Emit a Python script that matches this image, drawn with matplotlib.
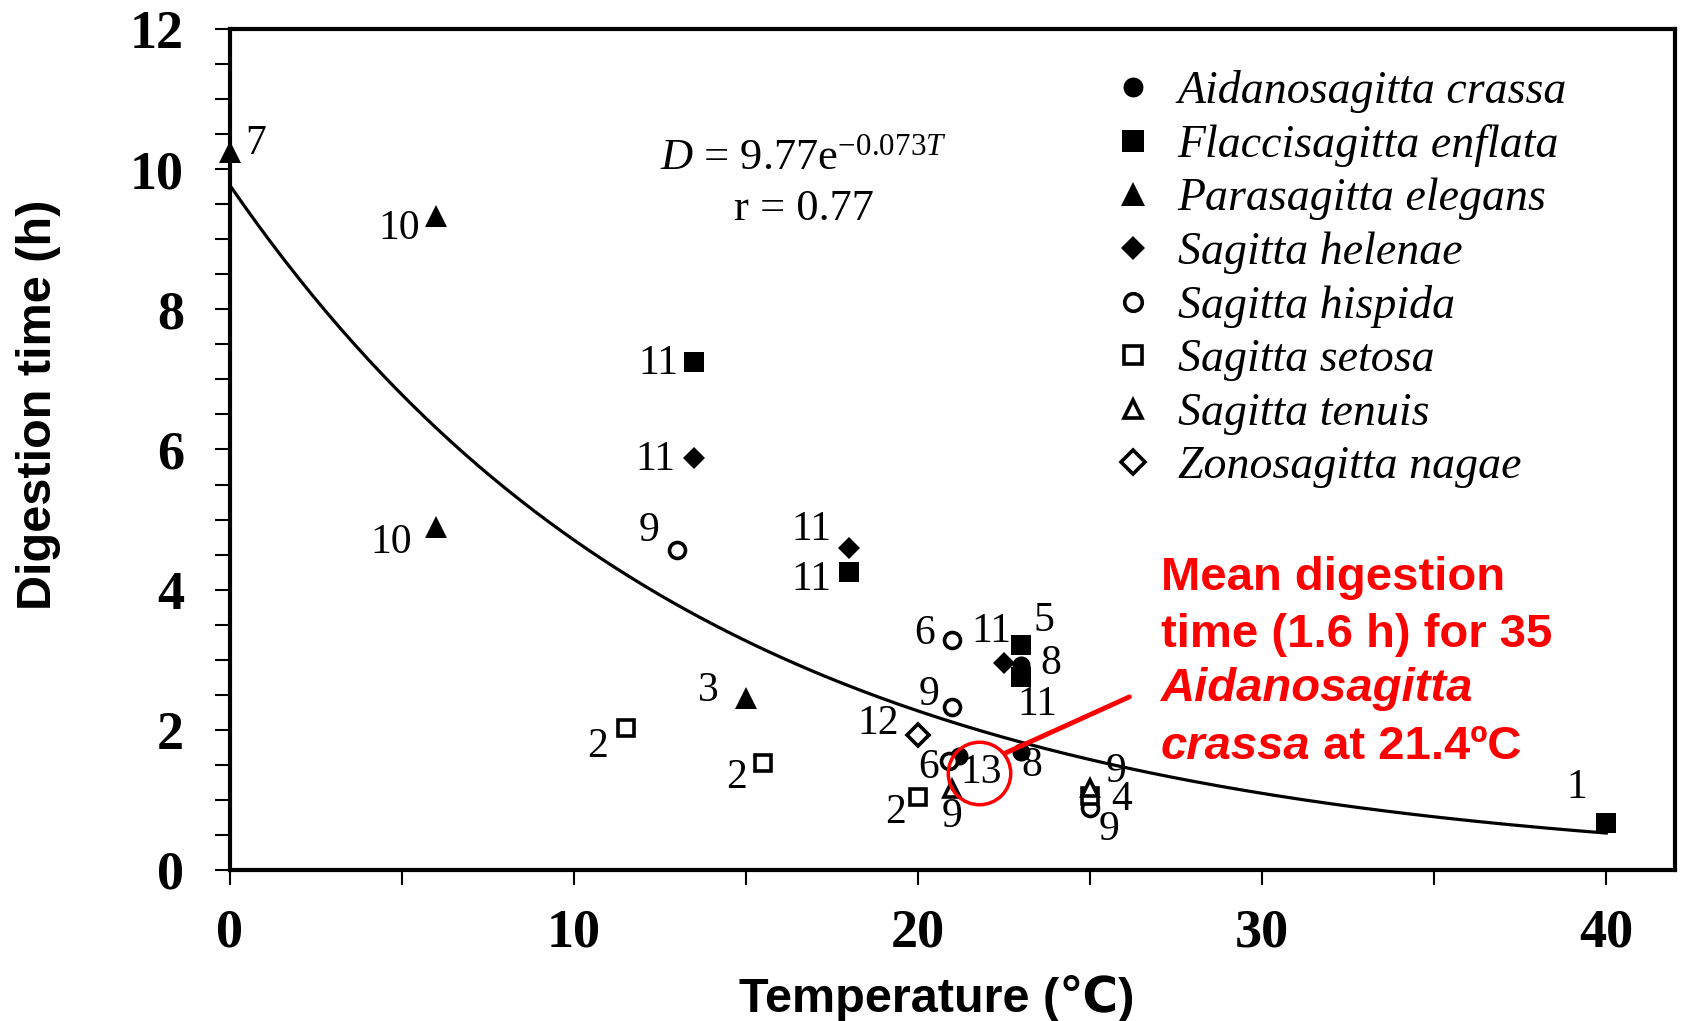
import numpy as np
import matplotlib
matplotlib.use('Agg')
import matplotlib.pyplot as plt
from matplotlib.ticker import MultipleLocator
from matplotlib.font_manager import FontProperties
from matplotlib.lines import Line2D

plt.rcParams['mathtext.fontset'] = 'custom'
plt.rcParams['mathtext.rm'] = 'Liberation Serif'
plt.rcParams['mathtext.it'] = 'Liberation Serif:italic'
plt.rcParams['mathtext.bf'] = 'Liberation Serif:bold'

# ---------------- data ----------------
crassa_T = [23.0, 23.0, 21.2]
crassa_D = [2.92, 1.69, 1.62]
crassa_ref = ['8', '8', '13']

enflata_T = [13.5, 18.0, 23.0, 23.0, 40.0]
enflata_D = [7.25, 4.25, 3.21, 2.76, 0.67]
enflata_ref = ['11', '11', '5', '11', '1']

elegans_T = [0.0, 6.0, 6.0, 15.0]
elegans_D = [10.25, 9.33, 4.9, 2.45]
elegans_ref = ['7', '10', '10', '3']

helenae_T = [13.5, 18.0, 22.5]
helenae_D = [5.88, 4.6, 2.95]
helenae_ref = ['11', '11', '11']

hispida_T = [13.0, 21.0, 21.0, 20.9, 25.0]
hispida_D = [4.57, 3.28, 2.32, 1.56, 0.89]
hispida_ref = ['9', '6', '9', '6', '9']

setosa_T = [11.5, 15.5, 20.0, 25.0]
setosa_D = [2.02, 1.52, 1.04, 1.05]
setosa_ref = ['2', '2', '2', '4']

tenuis_T = [21.0, 25.0]
tenuis_D = [1.15, 1.17]
tenuis_ref = ['9', '9']

nagae_T = [20.0]
nagae_D = [1.93]
nagae_ref = ['12']

species_names = ['Aidanosagitta crassa', 'Flaccisagitta enflata', 'Parasagitta elegans',
                 'Sagitta helenae', 'Sagitta hispida', 'Sagitta setosa',
                 'Sagitta tenuis', 'Zonosagitta nagae']

fit_a = 9.77
fit_b = 0.073
fit_r = 0.77
mean_T = 21.4
mean_D = 1.6
n_mean = 35

x_ticks = [0, 10, 20, 30, 40]
y_ticks = [0, 2, 4, 6, 8, 10, 12]

# ---------------- styles (label offsets in points) ----------------
crassa_off = [(21, 0.8), (7.7, -10), (15.5, -11.6)]
enflata_off = [(-26, -1.5), (-27, -5.4), (16, 17.8), (11.6, -20), (-21, 25.5)]
elegans_off = [(18.5, 5.4), (-27, -9.3), (-32.5, -11.6), (-27, 5.4)]
helenae_off = [(-27.8, -1.5), (-27, 13), (-9.3, 22.4)]
hispida_off = [(-20, 14), (-20, 4.6), (-17, 9.3), (-14.7, -5.4), (14, -16)]
setosa_off = [(-20, -13), (-19, -10), (-16, -11.6), (22.5, -2.3)]
tenuis_off = [(0, -20), (18.5, 11.5)]
nagae_off = [(-29, 7.7)]

groups = [
    (crassa_T, crassa_D, crassa_ref, crassa_off, dict(marker='o', ms=13, mfc='black', mec='black', mew=0)),
    (enflata_T, enflata_D, enflata_ref, enflata_off, dict(marker='s', ms=14, mfc='black', mec='black', mew=0)),
    (elegans_T, elegans_D, elegans_ref, elegans_off, dict(marker='^', ms=16, mfc='black', mec='black', mew=0)),
    (helenae_T, helenae_D, helenae_ref, helenae_off, dict(marker='D', ms=11.5, mfc='black', mec='black', mew=0)),
    (hispida_T, hispida_D, hispida_ref, hispida_off, dict(marker='o', ms=11.5, mfc='white', mec='black', mew=2.6)),
    (setosa_T, setosa_D, setosa_ref, setosa_off, dict(marker='s', ms=12, mfc='white', mec='black', mew=2.6)),
    (tenuis_T, tenuis_D, tenuis_ref, tenuis_off, dict(marker='^', ms=12, mfc='white', mec='black', mew=2.6)),
    (nagae_T, nagae_D, nagae_ref, nagae_off, dict(marker='D', ms=11, mfc='white', mec='black', mew=2.6)),
]

fig = plt.figure(figsize=(16.84, 10.21), dpi=100)
ax = fig.add_axes([0.1365, 0.1479, 0.8582, 0.8237])
ax.set_xlim(0, 42)
ax.set_ylim(0, 12)

# fitted curve
T_curve = np.linspace(0, 40, 200)
ax.plot(T_curve, fit_a * np.exp(-fit_b * T_curve), color='black', lw=2.3, zorder=2)

handles = []
for T, D, refs, offs, st in groups:
    ax.plot(T, D, linestyle='none', zorder=3, clip_on=False, **st)
    handles.append(Line2D([], [], linestyle='none', **st))
    for x, y, r, o in zip(T, D, refs, offs):
        ax.annotate(r, (x, y), xytext=o, textcoords='offset points', ha='center', va='center',
                    fontsize=30, family='Liberation Serif', zorder=4)

# axes styling
for s in ax.spines.values():
    s.set_linewidth(3)
ax.set_xticks(x_ticks)
ax.set_yticks(y_ticks)
ax.xaxis.set_minor_locator(MultipleLocator(5))
ax.yaxis.set_minor_locator(MultipleLocator(0.5))
ax.tick_params(which='both', direction='out', length=11, width=1.5, top=False, right=False)
ax.tick_params(axis='y', which='major', pad=22)
ax.tick_params(axis='x', which='major', pad=17)
for lbl in ax.get_xticklabels() + ax.get_yticklabels():
    lbl.set_fontfamily('Liberation Serif')
    lbl.set_fontweight('bold')
    lbl.set_fontsize(39)

fig.text(0.023, 0.604, 'Digestion time (h)', rotation=90, ha='center', va='center',
         fontsize=35, fontweight='bold', family=['Liberation Sans', 'DejaVu Sans'])
fig.text(0.556, 0.0088, 'Temperature (\u2103)', ha='center', va='baseline',
         fontsize=35, fontweight='bold', family=['Liberation Sans', 'DejaVu Sans'])

# equation
ax.text(16.67, 10.16, r'$\mathit{D}$ = %.2fe$^{\mathrm{-%.3f}\mathit{T}}$' % (fit_a, fit_b),
        ha='center', va='center', fontsize=32, family='Liberation Serif')
ax.text(16.67, 9.43, 'r = %.2f' % fit_r, ha='center', va='center', fontsize=32, family='Liberation Serif')

# legend
ax.legend(handles, species_names, loc='upper left', bbox_to_anchor=(0.659, 0.9316),
          bbox_transform=fig.transFigure, frameon=False,
          prop=FontProperties(family='Liberation Serif', style='italic', size=33),
          handlelength=1.0, handletextpad=0.48, labelspacing=0.24, borderpad=0,
          borderaxespad=0, numpoints=1, markerscale=1.1)

# red highlight
ax.plot([21.76], [1.38], 'o', ms=45, mfc='none', mec='red', mew=2.5, zorder=5)
ax.annotate('', xy=(22.52, 1.665), xytext=(26.14, 2.47),
            arrowprops=dict(arrowstyle='-', color='red', lw=3.5, shrinkA=0, shrinkB=0), zorder=5)

red = dict(color='red', fontsize=34, fontweight='bold', family='Liberation Sans', ha='left', va='center')
ax.text(27.05, 4.16, 'Mean digestion', **red)
ax.text(27.05, 3.36, 'time (%.1f h) for %d' % (mean_D, n_mean), **red)
ax.text(27.05, 2.58, 'Aidanosagitta', style='italic', **red)
t4 = ax.text(27.05, 1.75, 'crassa', style='italic', **red)
red2 = dict(red)
red2.pop('ha'); red2.pop('va')
ax.annotate(' at %.1f\u00baC' % mean_T, xy=(1, 0.5), xycoords=t4, ha='left', va='center', **red2)

fig.savefig('out.png', dpi=100)
